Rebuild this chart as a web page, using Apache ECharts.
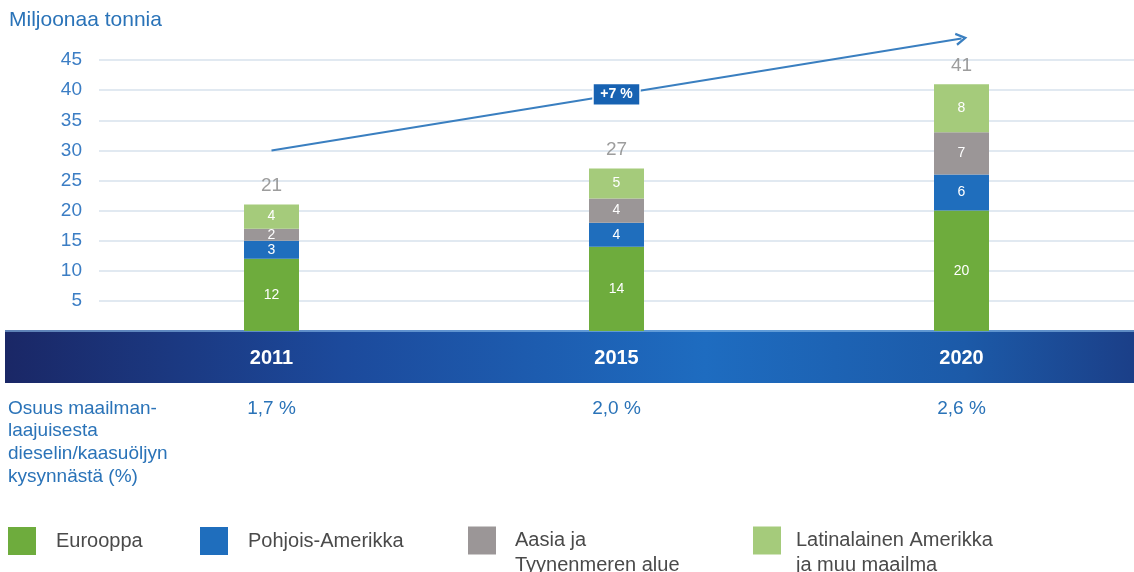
<!DOCTYPE html>
<html lang="fi">
<head>
  <meta charset="UTF-8">
  <title>Diesel / kaasuöljy</title>
  <style>
    html, body { margin: 0; padding: 0; background: #ffffff; }
    #main { width: 1134px; height: 572px; }
  </style>
  <script src="https://cdn.jsdelivr.net/npm/echarts@6/dist/echarts.min.js"></script>
</head>
<body>
  <div id="main"></div>
  <script>
    // data
    var categories = ['2011', '2015', '2020'];
    var seriesNames = ['Eurooppa', 'Pohjois-Amerikka', 'Aasia ja\nTyynenmeren alue', 'Latinalainen Amerikka\nja muu maailma'];
    var europe = [12, 14, 20];
    var northAmerica = [3, 4, 6];
    var asiaPacific = [2, 4, 7];
    var latinAmerica = [4, 5, 8];
    var totals = [21, 27, 41];
    var shares = ['1,7 %', '2,0 %', '2,6 %'];
    var shareTitle = 'Osuus maailman-\nlaajuisesta\ndieselin/kaasuöljyn\nkysynnästä (%)';
    var growthFrom = 30;
    var growthTo = 48.6;
    var growthLabel = '+7 %';

    var colors = ['#6eac3d', '#1f6ebd', '#9b9697', '#a5cb7b'];
    var legendLeft = [8, 200, 468, 753];
    var legendTextGap = [15, 15, 14, 10];
    var font = '"Liberation Sans", Arial, sans-serif';

    var chart = echarts.init(document.getElementById('main'));

    var values = [europe, northAmerica, asiaPacific, latinAmerica];
    var series = values.map(function (d, i) {
      return {
        name: seriesNames[i],
        type: 'bar',
        stack: 'total',
        barWidth: 55,
        data: d,
        itemStyle: { color: colors[i] },
        label: {
          show: true,
          position: 'inside',
          color: '#ffffff',
          fontSize: 14,
          fontFamily: font
        }
      };
    });

    // summat pylväiden päällä + kasvunuoli
    series.push({
      name: 'total',
      type: 'scatter',
      data: totals,
      symbolSize: 0,
      label: {
        show: true,
        position: 'top',
        distance: 9,
        color: '#858585',
        fontSize: 19,
        fontFamily: font
      },
      markLine: {
        silent: true,
        symbol: ['none', 'path://M6,0 L12,10 L10,11 L6,4 L2,11 L0,10 Z'],
        symbolSize: [13, 12],
        lineStyle: { color: '#3a7fc0', width: 2, type: 'solid' },
        label: { show: false },
        data: [[{ coord: [categories[0], growthFrom] }, { coord: [categories[2], growthTo] }]]
      },
      markPoint: {
        silent: true,
        symbol: 'rect',
        symbolSize: [47, 21],
        itemStyle: { color: '#1762b2', borderColor: '#ffffff', borderWidth: 1 },
        label: {
          show: true,
          formatter: growthLabel,
          color: '#ffffff',
          fontWeight: 'bold',
          fontSize: 14,
          fontFamily: font
        },
        data: [{ coord: [categories[1], (growthFrom + growthTo) / 2] }]
      }
    });

    var legends = seriesNames.map(function (name, i) {
      var multi = name.indexOf('\n') >= 0;
      return {
        data: [name],
        left: legendLeft[i],
        top: multi ? 503 : 527,
        icon: 'rect',
        itemWidth: 28,
        itemHeight: 28,
        padding: 0,
        selectedMode: false,
        formatter: function (n) {
          var parts = n.split('\n');
          if (parts.length < 2) return '{t|' + n + '}';
          // tyhjä rivi ylös, jotta ensimmäinen rivi osuu ruudun kohdalle
          return '{g| }\n{t|' + parts[0] + '}\n{t|' + parts[1] + '}';
        },
        textStyle: {
          color: '#4a4a4a',
          fontSize: 20,
          fontFamily: font,
          padding: [0, 0, 0, legendTextGap[i]],
          rich: {
            g: { fontSize: 20, lineHeight: 25, height: 25 },
            t: { color: '#4a4a4a', fontSize: 20, lineHeight: 25, fontFamily: font }
          }
        }
      };
    });

    var option = {
      animation: false,
      title: {
        text: 'Miljoonaa tonnia',
        left: 4,
        top: 5,
        textStyle: { color: '#2a73b8', fontSize: 21, fontWeight: 'normal', fontFamily: font }
      },
      legend: legends,
      grid: { left: 99, width: 1040, top: 30, bottom: 241 },
      graphic: [
        {
          type: 'rect',
          left: 5,
          top: 330,
          z: 0,
          shape: { width: 1129, height: 53 },
          style: {
            fill: new echarts.graphic.LinearGradient(0, 0, 1, 0, [
              { offset: 0, color: '#1a2766' },
              { offset: 0.3, color: '#1c4a9c' },
              { offset: 0.62, color: '#1e6cc0' },
              { offset: 0.85, color: '#1c5aa8' },
              { offset: 1, color: '#1b3f88' }
            ])
          }
        },
        {
          type: 'rect',
          left: 5,
          top: 330,
          z: 1,
          shape: { width: 1129, height: 2 },
          style: { fill: 'rgba(140,190,235,0.6)' }
        },
        {
          type: 'text',
          left: 8,
          top: 397,
          style: {
            text: shareTitle,
            fill: '#2a73b8',
            fontSize: 19,
            lineHeight: 22.7,
            fontFamily: font
          }
        }
      ],
      xAxis: [
        {
          type: 'category',
          data: categories,
          z: 10,
          axisLine: { show: false },
          axisTick: { show: false },
          axisLabel: {
            margin: 17,
            color: '#ffffff',
            fontSize: 20,
            fontWeight: 'bold',
            fontFamily: font
          }
        },
        {
          type: 'category',
          data: shares,
          position: 'bottom',
          axisLine: { show: false },
          axisTick: { show: false },
          splitLine: { show: false },
          axisLabel: {
            margin: 68,
            color: '#2a73b8',
            fontSize: 19,
            fontFamily: font
          }
        }
      ],
      yAxis: {
        type: 'value',
        min: 0,
        max: 50,
        interval: 5,
        axisLine: { show: false },
        axisTick: { show: false },
        axisLabel: {
          margin: 17,
          color: '#3b7dc4',
          fontSize: 19,
          fontFamily: font,
          showMinLabel: false,
          showMaxLabel: false
        },
        splitLine: {
          show: true,
          showMinLine: false,
          showMaxLine: false,
          lineStyle: { color: '#e1e9f1', width: 2 }
        }
      },
      series: series
    };

    chart.setOption(option);
  </script>
</body>
</html>
